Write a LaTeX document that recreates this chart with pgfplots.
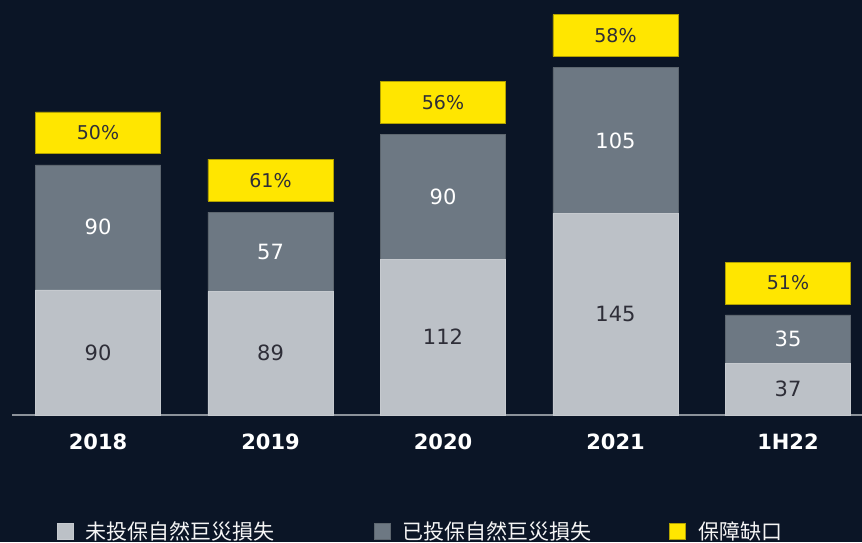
\documentclass[border=0pt]{standalone}
\usepackage{pgfplots}
\pgfplotsset{compat=1.18}
\usepackage{fontspec}
\setmainfont{DejaVu Sans}
\newfontfamily\cjk{Noto Sans CJK TC}
\definecolor{bg}{HTML}{0B1526}
\definecolor{lightbar}{HTML}{BCC1C7}
\definecolor{darkbar}{HTML}{6D7883}
\definecolor{eyyellow}{HTML}{FFE600}
\definecolor{labeldark}{HTML}{2E2E38}
\definecolor{baseline}{HTML}{8C929A}
\begin{document}
\begin{tikzpicture}
\useasboundingbox (0,0) rectangle (862pt,542pt);
\clip (0,0) rectangle (862pt,542pt);
\fill[bg] (0,0) rectangle (862pt,542pt);
\pgfplotsset{
  base/.style={
    at={(12pt,127pt)}, anchor=south west,
    scale only axis, width=850pt, height=415pt,
    xmin=-0.4986, xmax=4.4290, ymin=0, ymax=298.56,
  }
}
\begin{axis}[base,
  ybar stacked, bar width=0.725,
  axis y line=none, axis x line*=bottom,
  x axis line style={draw=baseline, line width=2pt, -},
  xtick={0,1,2,3,4}, xticklabels={2018,2019,2020,2021,1H22},
  major tick length=0pt,
  xticklabel style={anchor=center, yshift=-27pt, text=white, font=\bfseries\fontsize{21}{24}\selectfont},
  legend columns=3,
  legend style={at={(axis description cs:0.053,-0.2795)}, anchor=west, draw=none, fill=none,
    text=white!92!gray, font=\cjk\fontsize{21}{24}\selectfont, inner sep=0pt,
    /tikz/column 2/.style={column sep=97pt},
    /tikz/column 4/.style={column sep=76pt}},
  legend image code/.code={\fill[#1] (0pt,-8pt) rectangle (16pt,8pt); \path (26pt,0pt);},
]
\addplot[fill=lightbar, draw=lightbar!85!white, line width=0.6pt] coordinates {(0,90) (1,89) (2,112) (3,145) (4,37)};
\addlegendentry{未投保自然巨災損失}
\addplot[fill=darkbar, draw=darkbar!85!black, line width=0.6pt] coordinates {(0,90) (1,57) (2,90) (3,105) (4,35)};
\addlegendentry{已投保自然巨災損失}
\addplot[fill=none, draw=none, forget plot] coordinates {(0,8) (1,8) (2,8) (3,8) (4,8)};
\addplot[fill=eyyellow, draw=eyyellow!70!black, line width=0.6pt] coordinates {(0,30) (1,30) (2,30) (3,30) (4,30)};
\addlegendentry{保障缺口}
\end{axis}
\begin{axis}[base, hide axis,
  every node near coord/.append style={anchor=center, font=\fontsize{21}{24}\selectfont},
]
\addplot[draw=none, mark=none, nodes near coords, point meta=explicit symbolic,
  every node near coord/.append style={text=labeldark}]
  table[meta=label] {
x y label
0 45 90
1 44.5 89
2 56 112
3 72.5 145
4 18.5 37
};
\addplot[draw=none, mark=none, nodes near coords, point meta=explicit symbolic,
  every node near coord/.append style={text=white}]
  table[meta=label] {
x y label
0 135 90
1 117.5 57
2 157 90
3 197.5 105
4 54.5 35
};
\addplot[draw=none, mark=none, nodes near coords, point meta=explicit symbolic,
  every node near coord/.append style={text=labeldark, font=\fontsize{19}{24}\selectfont}]
  table[meta=label] {
x y label
0 203 50\%
1 169 61\%
2 225 56\%
3 273 58\%
4 95 51\%
};
\end{axis}
\end{tikzpicture}
\end{document}
